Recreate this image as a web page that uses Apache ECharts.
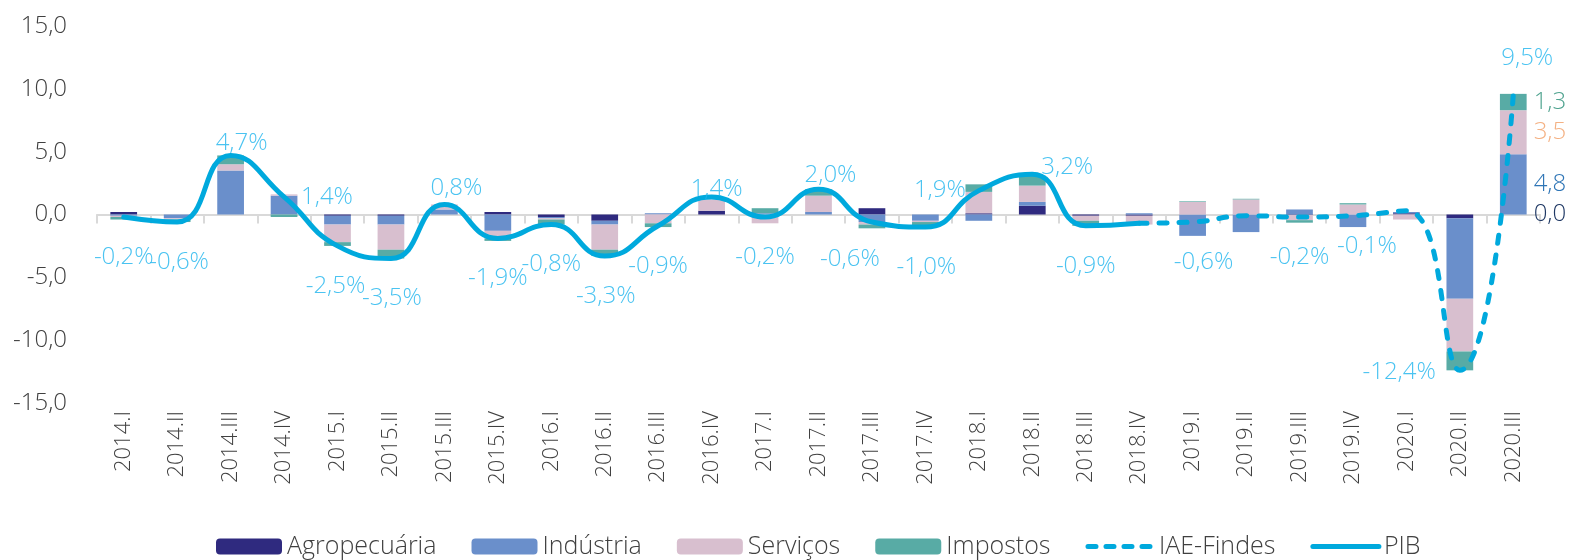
<!DOCTYPE html>
<html>
<head>
<meta charset="utf-8">
<script src="https://cdn.jsdelivr.net/npm/echarts@6/dist/echarts.min.js"></script>
<style>
  html, body { margin: 0; padding: 0; background: #fff; }
  #chart { width: 1576px; height: 560px; }
</style>
</head>
<body>
<div id="chart"></div>
<script>
const quarters = [
  "2014.I", "2014.II", "2014.III", "2014.IV",
  "2015.I", "2015.II", "2015.III", "2015.IV",
  "2016.I", "2016.II", "2016.III", "2016.IV",
  "2017.I", "2017.II", "2017.III", "2017.IV",
  "2018.I", "2018.II", "2018.III", "2018.IV",
  "2019.I", "2019.II", "2019.III", "2019.IV",
  "2020.I", "2020.II", "2020.III"
];

const agro = [0.2, 0, 0, 0, -0.1, -0.1, 0, 0.2, -0.2, -0.5, 0, 0.3, 0, 0, 0.5, 0, 0.1, 0.7, -0.1, -0.1, 0, 0, -0.05, 0, 0.1, -0.3, 0.0];
const industria = [-0.1, -0.3, 3.5, 1.5, -0.7, -0.7, 0.4, -1.3, -0.1, -0.3, 0.1, 0, 0.1, 0.2, -0.6, -0.5, -0.5, 0.3, 0, 0.1, -1.7, -1.4, 0.4, -1.0, 0.1, -6.4, 4.8];
const servicos = [-0.1, -0.1, 0.5, 0.1, -1.4, -2.0, 0.4, -0.6, -0.1, -2.0, -0.7, 0.9, -0.7, 1.3, -0.2, -0.1, 1.7, 1.3, -0.4, -0.7, 1.0, 1.2, -0.4, 0.8, -0.4, -4.2, 3.5];
const impostos = [-0.2, -0.2, 0.7, -0.2, -0.3, -0.7, 0, -0.2, -0.4, -0.5, -0.3, 0, 0.4, 0.5, -0.3, -0.4, 0.6, 0.8, -0.4, 0, 0.05, 0.05, -0.2, 0.1, 0, -1.5, 1.3];

const pib = [-0.2, -0.6, 4.7, 1.4, -2.5, -3.5, 0.8, -1.9, -0.8, -3.3, -0.9, 1.4, -0.2, 2.0, -0.6, -1.0, 1.9, 3.2, -0.9, -0.7,
  null, null, null, null, null, null, null];
const iae = [null, null, null, null, null, null, null, null, null, null, null, null, null, null, null, null, null, null, null, -0.7,
  -0.6, -0.1, -0.2, -0.1, 0.3, -12.4, 9.5];

const yTicks = { min: -15, max: 15, interval: 5 };

const FONT = "'Open Sans', 'Noto Sans', sans-serif";
const WEIGHT = 300;
const LABEL_BLUE = "#1DB4EE";
const LINE_BLUE = "#00A9DD";

const fmt = (v) => v.toFixed(1).replace(".", ",");

// where each line label sits (index -> [position, offset]); absent = no label
const pibLabelPlace = {
  0: ["bottom", [0, 0]], 1: ["bottom", [2, 0]], 2: ["top", [11, 7]], 3: ["right", [10, 0]],
  4: ["bottom", [-2, 0]], 5: ["bottom", [1, 0]], 6: ["top", [12, 3]], 7: ["bottom", [0, 0]],
  8: ["bottom", [0, 0]], 9: ["bottom", [1, 0]], 10: ["bottom", [0, 0]], 11: ["top", [5, 11]],
  12: ["bottom", [0, 0]], 13: ["top", [12, 5]], 14: ["bottom", [-22, -3]], 15: ["bottom", [1, 0]],
  16: ["left", [-6, 0]], 17: ["right", [2, -7]], 18: ["bottom", [0, 0]]
};
const iaeLabelPlace = {
  20: ["bottom", [11, 0]], 22: ["bottom", [0, 0]], 23: ["bottom", [14, -10]],
  25: ["left", [-17, 2]], 26: ["top", [14, -18]]
};

// invisible points carrying the line labels
function labelSeries(values, places) {
  return {
    type: "scatter",
    z: 7,
    silent: true,
    symbolSize: 4,
    itemStyle: { color: "rgba(0,0,0,0)" },
    label: { show: false, color: LABEL_BLUE, fontSize: 24, fontFamily: FONT, fontWeight: WEIGHT,
      formatter: (p) => fmt(p.value) + "%" },
    data: values.map((v, i) => {
      const p = places[i];
      if (v == null) return null;
      if (!p) return v;
      return {
        value: v,
        label: { show: true, position: p[0], offset: p[1], distance: p[0] === "bottom" ? 26 : 5 }
      };
    })
  };
}

function barData(values, labelColor) {
  const last = values.length - 1;
  return values.map((v, i) =>
    i === last
      ? { value: v, label: { show: true, position: "right", distance: 7, color: labelColor,
          fontSize: 24, fontFamily: FONT, fontWeight: WEIGHT, formatter: (p) => fmt(p.value) } }
      : v
  );
}

const chart = echarts.init(document.getElementById("chart"));

const legendLine = (dash) => ({
  lineStyle: { width: 5, type: dash, cap: "round", color: LINE_BLUE },
  itemStyle: { opacity: 0 }
});

const option = {
  animation: false,
  textStyle: { fontFamily: FONT, fontWeight: WEIGHT },
  grid: { left: 97, right: 36, top: 26, bottom: 157 },
  legend: {
    left: 211,
    top: 529,
    itemWidth: 66,
    itemHeight: 16,
    itemGap: 35,
    textStyle: { fontSize: 25, color: "#404040", fontFamily: FONT, fontWeight: WEIGHT },
    data: [
      "Agropecuária", "Indústria", "Serviços", "Impostos",
      Object.assign({ name: "IAE-Findes" }, legendLine([8, 10])),
      Object.assign({ name: "PIB" }, legendLine("solid"))
    ]
  },
  xAxis: [
    {
      type: "category",
      data: quarters,
      position: "bottom",
      axisLine: { show: false, onZero: false },
      axisTick: { show: false },
      axisLabel: { rotate: 90, margin: 8, fontSize: 22, color: "#404040", fontFamily: FONT, fontWeight: WEIGHT }
    },
    {
      type: "category",
      data: quarters,
      position: "bottom",
      axisLine: { show: true, onZero: true, lineStyle: { color: "#D9D9D9", width: 2 } },
      axisTick: { show: true, length: 9, lineStyle: { color: "#D9D9D9", width: 2 } },
      axisLabel: { show: false }
    }
  ],
  yAxis: {
    type: "value",
    min: yTicks.min,
    max: yTicks.max,
    interval: yTicks.interval,
    axisLine: { show: false },
    axisTick: { show: false },
    splitLine: { show: false },
    axisLabel: { margin: 30, fontSize: 24, color: "#404040", fontFamily: FONT, fontWeight: WEIGHT, formatter: fmt }
  },
  series: [
    { name: "Agropecuária", type: "bar", stack: "total", barWidth: "50%",
      itemStyle: { color: "#2F2A7F" }, data: barData(agro, "#1F3864") },
    { name: "Indústria", type: "bar", stack: "total",
      itemStyle: { color: "#6A8FCB" }, data: barData(industria, "#2E75B6") },
    { name: "Serviços", type: "bar", stack: "total",
      itemStyle: { color: "#D8BFCF" }, data: barData(servicos, "#F4B183") },
    { name: "Impostos", type: "bar", stack: "total",
      itemStyle: { color: "#58ABA5" }, data: barData(impostos, "#4FA38F") },
    {
      name: "IAE-Findes", type: "line", smooth: 0.5, smoothConstraint: false, symbol: "none", z: 5,
      lineStyle: { color: LINE_BLUE, width: 5, type: [8, 12], cap: "round" },
      itemStyle: { color: LINE_BLUE },
      data: iae
    },
    {
      name: "PIB", type: "line", smooth: 0.5, smoothConstraint: false, symbol: "none", z: 6,
      lineStyle: { color: LINE_BLUE, width: 5, cap: "round" },
      itemStyle: { color: LINE_BLUE },
      data: pib
    },
    labelSeries(iae, iaeLabelPlace),
    labelSeries(pib, pibLabelPlace)
  ]
};

chart.setOption(option);
</script>
</body>
</html>
